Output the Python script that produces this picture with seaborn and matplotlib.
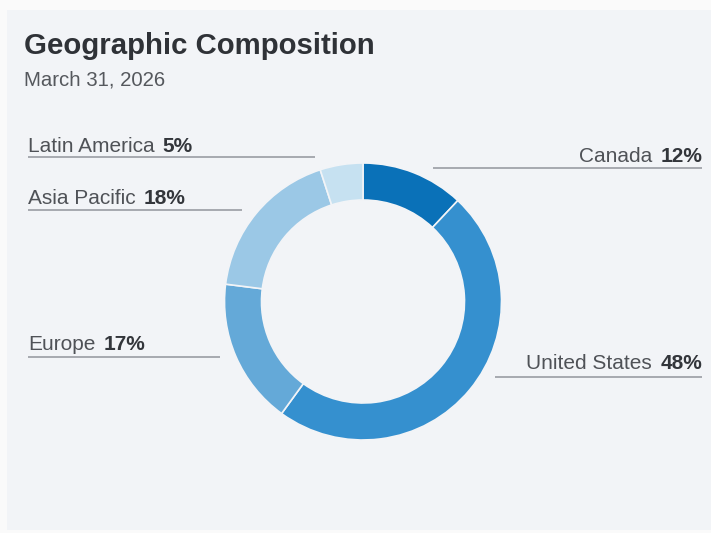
import matplotlib
matplotlib.use("Agg")
import seaborn as sns
from matplotlib import pyplot as plt
from matplotlib.patches import Rectangle

regions = ['Canada', 'United States', 'Europe', 'Asia Pacific', 'Latin America']
shares = [12, 48, 17, 18, 5]
colors = ['#0a71b8', '#3590cf', '#64a9d8', '#9bc8e6', '#c6e1f1']

title = 'Geographic Composition'
subtitle = 'March 31, 2026'

sns.set_theme(style='white')
plt.rcParams['font.family'] = ['Liberation Sans', 'DejaVu Sans']

W, H = 711, 533
fig = plt.figure(figsize=(W / 100, H / 100), dpi=100, facecolor='#fafafa')
ax = fig.add_axes([0, 0, 1, 1])


def py(y):
    # pixel row from top -> data y
    return H - y


# panel background
ax.add_patch(Rectangle((7, py(530)), W - 7, 520, facecolor='#f2f4f7', edgecolor='none', zorder=0))

# donut
ax.pie(shares, colors=sns.color_palette(colors), startangle=90, counterclock=False,
       center=(363, py(301.5)), radius=138.5, frame=True,
       wedgeprops=dict(width=37, edgecolor='#f2f4f7', linewidth=1.2))
ax.set_xlim(0, W)
ax.set_ylim(0, H)
ax.set_aspect('equal')
ax.axis('off')

# title
ax.text(24, py(54), title, fontsize=21.2, fontweight='bold', color='#2f3237', va='baseline', ha='left')
ax.text(24, py(86), subtitle, fontsize=14.7, color='#55585d', va='baseline', ha='left')

# label layout: (side, baseline y, line y, line x0, line x1)
layout = {
    'Latin America': ('left', 152, 157, 28, 315),
    'Asia Pacific': ('left', 204, 210, 28, 242),
    'Europe': ('left', 350, 357, 28, 220),
    'Canada': ('right', 162, 168, 433, 702),
    'United States': ('right', 369, 377, 495, 702),
}

renderer = fig.canvas.get_renderer()
inv = ax.transData.inverted()
for name, val in zip(regions, shares):
    side, yb, yl, x0, x1 = layout[name]
    ax.plot([x0, x1], [py(yl), py(yl)], color='#9a9da3', lw=1.2, solid_capstyle='butt')
    pct = f'{val}%'
    if side == 'left':
        t = ax.text(x0, py(yb), name, fontsize=15, color='#4f5257', ha='left', va='baseline')
        bb = t.get_window_extent(renderer)
        xr = inv.transform((bb.x1, 0))[0]
        ax.text(xr + 8, py(yb), pct, fontsize=15, fontweight='bold', color='#33363b', ha='left', va='baseline')
    else:
        t = ax.text(x1, py(yb), pct, fontsize=15, fontweight='bold', color='#33363b', ha='right', va='baseline')
        bb = t.get_window_extent(renderer)
        xl = inv.transform((bb.x0, 0))[0]
        ax.text(xl - 8, py(yb), name, fontsize=15, color='#4f5257', ha='right', va='baseline')

fig.savefig('out.png', dpi=100, facecolor=fig.get_facecolor())
